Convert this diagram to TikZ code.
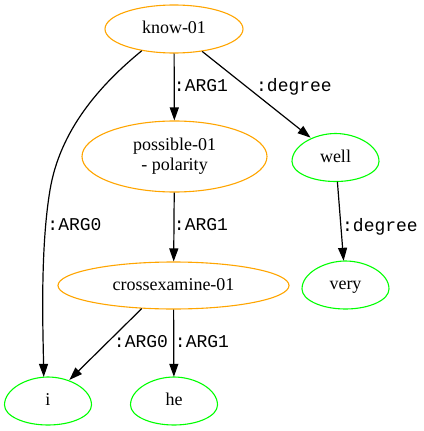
\documentclass[tikz,border=0pt]{standalone}
\usepackage{fontspec}
\setmainfont{Liberation Serif}
\setmonofont{Liberation Mono}
\usetikzlibrary{shapes.geometric,arrows.meta,calc}
\definecolor{conceptorange}{RGB}{255,165,0}
\definecolor{constgreen}{RGB}{0,255,0}

% egg-shaped outline drawn around a (borderless) constant node
\newcommand\eggoutline[1]{%
  \draw[eggline] ($(#1.center)+(43.5,4)$)
    .. controls +(0,-16) and +(21,0) .. ($(#1.center)+(0,-24)$)
    .. controls +(-21,0) and +(0,-16) .. ($(#1.center)+(-43.5,4)$)
    .. controls +(0,11) and +(-24,0) .. ($(#1.center)+(0,24)$)
    .. controls +(24,0) and +(0,11) .. cycle;}

\begin{document}
\begin{tikzpicture}[x=1pt,y=-1pt,
  nodefont/.style={font=\fontsize{18}{20}\selectfont},
  concept/.style={ellipse, draw=conceptorange, line width=1.1pt, inner sep=0pt,
    nodefont, align=center},
  single/.style={text height=12.5pt, text depth=3pt},
  constant/.style={ellipse, draw=none, minimum width=87pt, minimum height=48pt,
    inner sep=0pt, nodefont, single},
  eggline/.style={draw=constgreen, line width=1.1pt},
  edge/.style={draw=black, line width=1.2pt, -{Triangle[length=13pt,width=9pt]}},
  role/.style={font=\fontsize{18}{20}\selectfont\ttfamily, anchor=base, inner sep=0pt}
]
\useasboundingbox (0,0) rectangle (423,431);

% concepts
\node[concept, single, minimum width=138pt, minimum height=48pt] (know) at (174,29) {know-01};
\node[concept, minimum width=185pt, minimum height=71pt] (possible) at (174.5,156.5) {possible-01\\- polarity};
\node[concept, single, minimum width=231pt, minimum height=47pt] (cross) at (173.5,285.5) {crossexamine-01};

% constants
\node[constant] (i) at (48,401) {i};
\node[constant] (he) at (174,401) {he};
\node[constant] (well) at (335.5,157.5) {well};
\node[constant] (very) at (345.5,285) {very};
\eggoutline{i}
\eggoutline{he}
\eggoutline{well}
\eggoutline{very}

% relations
\draw[edge] (know.214) .. controls (100,85) and (60,130) .. (50,190)
  .. controls (40,250) and (43,330) .. (i.100);
\draw[edge] (know) -- (possible);
\draw[edge] (know) -- (well);
\draw[edge] (possible) -- (cross);
\draw[edge] (cross.216) -- (i);
\draw[edge] (cross) -- (he);
\draw[edge] (well) -- (very);

% role labels
\node[role] (lknowarg0) at (74.5,230.7) {:ARG0};
\node[role] (lknowarg1) at (201,91.5) {:ARG1};
\node[role] (lknowdeg) at (294,91.5) {:degree};
\node[role] (lposarg1) at (201,230.7) {:ARG1};
\node[role] (lcrossarg0) at (141,347.3) {:ARG0};
\node[role] (lcrossarg1) at (202,347.3) {:ARG1};
\node[role] (lwelldeg) at (380,231.5) {:degree};
\end{tikzpicture}
\end{document}
